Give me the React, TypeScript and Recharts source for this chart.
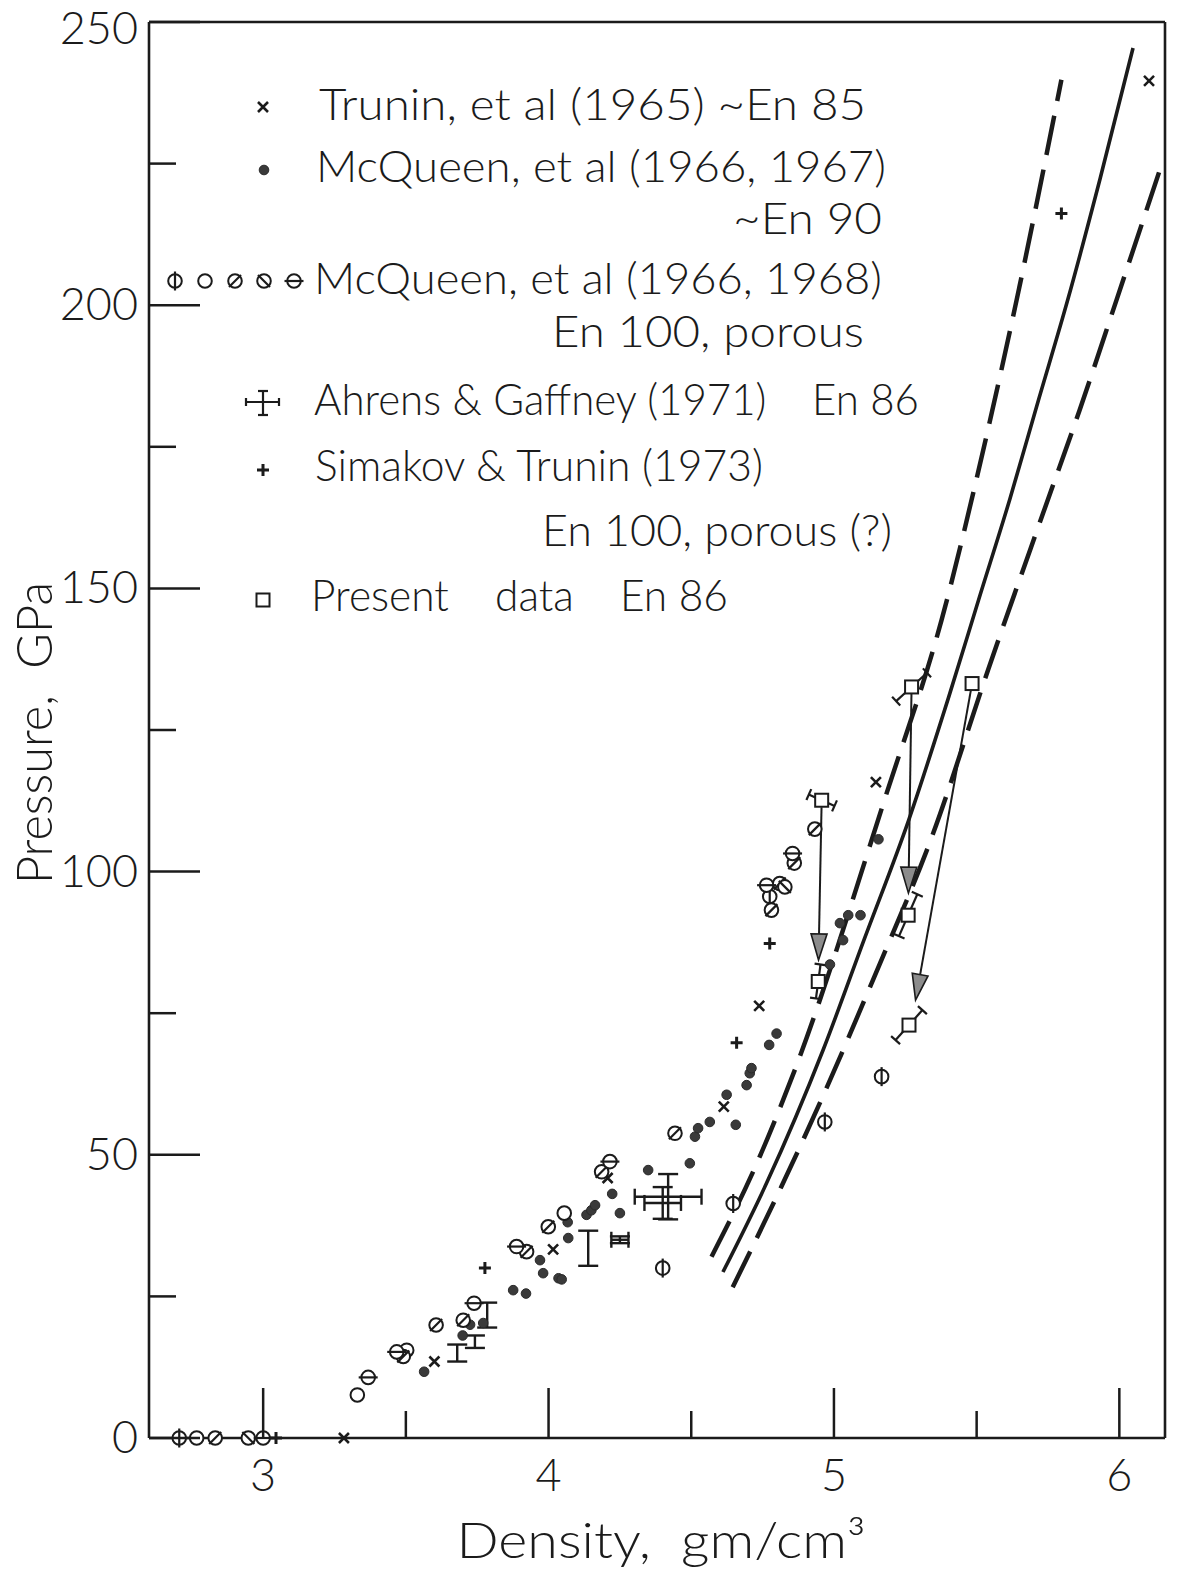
import React from 'react';
import { ComposedChart, XAxis, YAxis, Scatter, Line, ReferenceLine, ErrorBar, Legend } from 'recharts';

// ---------------- data ----------------
const xTicks = [3, 3.5, 4, 4.5, 5, 5.5, 6];
const yTicks = [0, 25, 50, 75, 100, 125, 150, 175, 200, 225, 250];

const truninName = 'Trunin, et al (1965) ~En 85';
const mcq67Name = 'McQueen, et al (1966, 1967)';
const mcq67Sub = '~En 90';
const mcq68Name = 'McQueen, et al (1966, 1968)';
const mcq68Sub = 'En 100, porous';
const ahrensName = 'Ahrens & Gaffney (1971)    En 86';
const simakovName = 'Simakov & Trunin (1973)';
const simakovSub = 'En 100, porous (?)';
const presentName = 'Present    data    En 86';

const trunin = [
  { x: 3.283, y: 0 }, { x: 3.6, y: 13.5 }, { x: 4.016, y: 33.3 }, { x: 4.207, y: 45.9 },
  { x: 4.614, y: 58.5 }, { x: 4.738, y: 76.3 }, { x: 5.147, y: 115.8 }, { x: 6.104, y: 239.6 },
];

const mcqueenDense = [
  { x: 3.564, y: 11.7 }, { x: 3.699, y: 18.1 }, { x: 3.725, y: 20.0 }, { x: 3.771, y: 20.3 },
  { x: 3.876, y: 26.1 }, { x: 3.921, y: 25.5 }, { x: 3.97, y: 31.4 }, { x: 3.981, y: 29.1 },
  { x: 4.035, y: 28.2 }, { x: 4.046, y: 28.0 }, { x: 4.069, y: 35.3 }, { x: 4.067, y: 38.1 },
  { x: 4.133, y: 39.4 }, { x: 4.15, y: 40.2 }, { x: 4.163, y: 41.1 }, { x: 4.223, y: 43.1 },
  { x: 4.25, y: 39.7 }, { x: 4.349, y: 47.3 }, { x: 4.495, y: 48.5 }, { x: 4.513, y: 53.2 },
  { x: 4.524, y: 54.7 }, { x: 4.565, y: 55.8 }, { x: 4.624, y: 60.6 }, { x: 4.656, y: 55.3 },
  { x: 4.694, y: 62.3 }, { x: 4.705, y: 64.4 }, { x: 4.711, y: 65.3 }, { x: 4.773, y: 69.4 },
  { x: 4.799, y: 71.4 }, { x: 4.986, y: 83.6 }, { x: 5.021, y: 90.9 }, { x: 5.032, y: 87.9 },
  { x: 5.05, y: 92.3 }, { x: 5.093, y: 92.3 }, { x: 5.156, y: 105.7 },
];

const porousPhi = [
  { x: 2.706, y: 0 }, { x: 4.4, y: 30.0 }, { x: 4.647, y: 41.4 }, { x: 4.968, y: 55.8 },
  { x: 5.167, y: 63.8 }, { x: 4.775, y: 95.6 },
];
const porousOpen = [
  { x: 2.767, y: 0 }, { x: 3.33, y: 7.6 }, { x: 3.503, y: 15.5 }, { x: 4.055, y: 39.7 },
];
const porousSlash = [
  { x: 2.832, y: 0 }, { x: 3.491, y: 14.4 }, { x: 3.606, y: 19.95 }, { x: 3.701, y: 20.8 },
  { x: 3.923, y: 32.9 }, { x: 3.999, y: 37.3 }, { x: 4.186, y: 47.0 }, { x: 4.443, y: 53.8 },
  { x: 4.861, y: 101.5 }, { x: 4.933, y: 107.5 }, { x: 4.81, y: 97.9 }, { x: 4.781, y: 93.2 },
];
const porousBackslash = [
  { x: 2.948, y: 0 }, { x: 4.828, y: 97.3 },
];
const porousTheta = [
  { x: 3.0, y: 0 }, { x: 3.368, y: 10.7 }, { x: 3.468, y: 15.2 }, { x: 3.739, y: 23.8 },
  { x: 3.888, y: 33.8 }, { x: 4.215, y: 48.8 }, { x: 4.855, y: 103.2 }, { x: 4.764, y: 97.6 },
];

const simakov = [
  { x: 3.045, y: 0 }, { x: 3.777, y: 30.0 }, { x: 4.659, y: 69.8 }, { x: 4.775, y: 87.3 },
  { x: 5.797, y: 216.2 },
];

const ahrens = [
  { x: 3.68, y: 15.0, xErr: 0, yErr: 1.5 },
  { x: 3.742, y: 17.0, xErr: 0, yErr: 1.1 },
  { x: 3.785, y: 21.7, xErr: 0, yErr: 2.2 },
  { x: 4.139, y: 33.5, xErr: 0, yErr: 3.1 },
  { x: 4.25, y: 35.0, xErr: 0.03, yErr: 0.6 },
  { x: 4.4, y: 41.5, xErr: 0.064, yErr: 2.8 },
  { x: 4.419, y: 42.6, xErr: 0.117, yErr: 4.0 },
];

const present = [
  { x: 4.957, y: 112.6 }, { x: 4.945, y: 80.6 },
  { x: 5.272, y: 132.6 }, { x: 5.26, y: 92.3 },
  { x: 5.484, y: 133.2 }, { x: 5.263, y: 72.9 },
];
// slanted uncertainty (half-vector) of present data points
const presentUncertainty = [
  { x: 4.957, y: 112.6, dx: 0.045, dy: -1.0 },
  { x: 4.945, y: 80.6, dx: 0.008, dy: 3.0 },
  { x: 5.272, y: 132.6, dx: 0.054, dy: 2.5 },
  { x: 5.26, y: 92.3, dx: 0.032, dy: 3.7 },
  { x: 5.263, y: 72.9, dx: 0.047, dy: 2.65 },
];
// release arrows from initial to final states
const presentArrows = [
  { x1: 4.957, y1: 112.6, x2: 4.946, y2: 84.4 },
  { x1: 5.272, y1: 132.6, x2: 5.261, y2: 96.2 },
  { x1: 5.484, y1: 133.2, x2: 5.286, y2: 77.3 },
];

const curveLeft = [
  { x: 4.571, y: 32.0 }, { x: 4.735, y: 49.1 }, { x: 4.863, y: 65.0 }, { x: 5.185, y: 113.9 },
  { x: 5.377, y: 144.4 }, { x: 5.523, y: 174.4 }, { x: 5.64, y: 200.9 }, { x: 5.797, y: 239.8 },
];
const curveMid = [
  { x: 4.611, y: 29.3 }, { x: 4.764, y: 45.0 }, { x: 4.962, y: 68.5 }, { x: 5.105, y: 87.9 },
  { x: 5.262, y: 109.1 }, { x: 5.402, y: 130.8 }, { x: 5.507, y: 148.0 }, { x: 5.616, y: 165.7 },
  { x: 5.717, y: 183.3 }, { x: 5.819, y: 200.9 }, { x: 5.933, y: 222.4 }, { x: 6.048, y: 245.4 },
];
const curveRight = [
  { x: 4.645, y: 26.6 }, { x: 4.816, y: 44.4 }, { x: 4.968, y: 61.1 }, { x: 5.137, y: 80.9 },
  { x: 5.348, y: 106.8 }, { x: 5.54, y: 135.6 }, { x: 5.733, y: 163.3 }, { x: 5.861, y: 181.5 },
  { x: 5.99, y: 200.9 }, { x: 6.142, y: 223.9 },
];

// ---------------- styling ----------------
const INK = '#1b1b1b';
const FONT = "Lato, 'Open Sans', 'DejaVu Sans', sans-serif";
const W = 1181;
const H = 1575;

const isMajorX = (v: number) => Math.abs(v - Math.round(v)) < 1e-6;
const isMajorY = (v: number) => Math.abs(v % 50) < 1e-6;

const txt = { fontFamily: FONT, fontWeight: 300, fill: INK } as const;

function BottomTick(p: any) {
  const { x, y, payload } = p;
  const major = isMajorX(payload.value);
  return (
    <g>
      <line x1={x} x2={x} y1={y} y2={y - (major ? 50 : 27)} stroke={INK} strokeWidth={2.5} />
      {major && (
        <text x={x} y={y + 53} textAnchor="middle" fontSize={45} {...txt}>{payload.value}</text>
      )}
    </g>
  );
}
function TopTick(p: any) {
  const { x, y, payload } = p;
  const major = isMajorX(payload.value);
  return <line x1={x} x2={x} y1={y} y2={y + (major ? 47 : 27)} stroke={INK} strokeWidth={2.5} />;
}
function LeftTick(p: any) {
  const { x, y, payload } = p;
  const major = isMajorY(payload.value);
  return (
    <g>
      <line x1={x} x2={x + (major ? 51 : 27)} y1={y} y2={y} stroke={INK} strokeWidth={2.5} />
      {major && (
        <text x={x - 11} y={Math.max(y + 15, 44)} textAnchor="end" fontSize={45} {...txt}>{payload.value}</text>
      )}
    </g>
  );
}
function RightTick(p: any) {
  const { x, y, payload } = p;
  const major = isMajorY(payload.value);
  return <line x1={x} x2={x - (major ? 48 : 27)} y1={y} y2={y} stroke={INK} strokeWidth={2.5} />;
}

function XTitle(p: any) {
  const vb = p.viewBox;
  return (
    <text x={vb.x + vb.width / 2 + 4} y={vb.y + 120} textAnchor="middle" fontSize={50}
      textLength={409} lengthAdjust="spacingAndGlyphs" style={{ whiteSpace: 'pre' }} {...txt}>
      {'Density,  gm/cm³'}
    </text>
  );
}
function YTitle(p: any) {
  const vb = p.viewBox;
  const cx = vb.x + 3;
  const cy = vb.y + vb.height / 2 + 3;
  return (
    <text x={cx} y={cy} transform={`rotate(-90 ${cx} ${cy})`} textAnchor="middle" fontSize={50}
      textLength={302} lengthAdjust="spacingAndGlyphs" style={{ whiteSpace: 'pre' }} {...txt}>
      {'Pressure,  GPa'}
    </text>
  );
}

// ---------------- marker shapes ----------------
const XMark = ({ cx, cy }: any) => (
  <path d={`M${cx - 5},${cy - 5}L${cx + 5},${cy + 5}M${cx - 5},${cy + 5}L${cx + 5},${cy - 5}`}
    stroke={INK} strokeWidth={2.6} />
);
const Dot = ({ cx, cy }: any) => <circle cx={cx} cy={cy} r={4.8} fill="#3a3a3a" stroke="#2a2a2a" strokeWidth={1} />;
const PlusMark = ({ cx, cy }: any) => (
  <path d={`M${cx - 6},${cy}L${cx + 6},${cy}M${cx},${cy - 6}L${cx},${cy + 6}`} stroke={INK} strokeWidth={3} />
);
const ring = (cx: number, cy: number) => (
  <circle cx={cx} cy={cy} r={6.8} fill="#fff" stroke={INK} strokeWidth={2} />
);
const PhiMark = ({ cx, cy }: any) => (
  <g>{ring(cx, cy)}<line x1={cx} x2={cx} y1={cy - 9.5} y2={cy + 9.5} stroke={INK} strokeWidth={2.2} /></g>
);
const OpenMark = ({ cx, cy }: any) => <g>{ring(cx, cy)}</g>;
const SlashMark = ({ cx, cy }: any) => (
  <g>{ring(cx, cy)}<line x1={cx - 6} y1={cy + 6} x2={cx + 6} y2={cy - 6} stroke={INK} strokeWidth={2.2} /></g>
);
const BackslashMark = ({ cx, cy }: any) => (
  <g>{ring(cx, cy)}<line x1={cx - 6} y1={cy - 6} x2={cx + 6} y2={cy + 6} stroke={INK} strokeWidth={2.2} /></g>
);
const ThetaMark = ({ cx, cy }: any) => (
  <g>{ring(cx, cy)}<line x1={cx - 9.5} x2={cx + 9.5} y1={cy} y2={cy} stroke={INK} strokeWidth={2.2} /></g>
);
const SquareMark = ({ cx, cy }: any) => (
  <rect x={cx - 6.5} y={cy - 6.5} width={13} height={13} fill="#fff" stroke={INK} strokeWidth={2} />
);
const NoMark = () => <g />;
const AhrensLegendMark = ({ cx, cy }: any) => (
  <g stroke={INK} strokeWidth={2.2}>
    <line x1={cx - 17} x2={cx + 16} y1={cy} y2={cy} />
    <line x1={cx - 17} x2={cx - 17} y1={cy - 4} y2={cy + 4} />
    <line x1={cx + 16} x2={cx + 16} y1={cy - 4} y2={cy + 4} />
    <line x1={cx} x2={cx} y1={cy - 11} y2={cy + 13} />
    <line x1={cx - 5} x2={cx + 5} y1={cy - 11} y2={cy - 11} />
    <line x1={cx - 5} x2={cx + 5} y1={cy + 13} y2={cy + 13} />
  </g>
);

function ArrowShape(p: any) {
  const { x1, y1, x2, y2 } = p;
  const dx = x2 - x1, dy = y2 - y1;
  const len = Math.hypot(dx, dy) || 1;
  const ux = dx / len, uy = dy / len;
  const hl = 26, hw = 8;
  const sx = x1 + ux * 7, sy = y1 + uy * 7;
  const bx = x2 - ux * hl, by = y2 - uy * hl;
  const px = -uy, py = ux;
  return (
    <g>
      <line x1={sx} y1={sy} x2={bx} y2={by} stroke={INK} strokeWidth={2} />
      <polygon points={`${x2},${y2} ${bx + px * hw},${by + py * hw} ${bx - px * hw},${by - py * hw}`}
        fill="#8c8c8c" stroke={INK} strokeWidth={1.6} />
    </g>
  );
}

function SlantErrorShape(p: any) {
  const { x1, y1, x2, y2 } = p;
  const mx = (x1 + x2) / 2, my = (y1 + y2) / 2;
  const dx = x2 - x1, dy = y2 - y1;
  const len = Math.hypot(dx, dy) || 1;
  const ux = dx / len, uy = dy / len;
  const px = -uy * 6, py = ux * 6;
  const gap = 7;
  return (
    <g stroke={INK} strokeWidth={2.2}>
      <line x1={mx + ux * gap} y1={my + uy * gap} x2={x2} y2={y2} />
      <line x1={mx - ux * gap} y1={my - uy * gap} x2={x1} y2={y1} />
      <line x1={x2 - px} y1={y2 - py} x2={x2 + px} y2={y2 + py} />
      <line x1={x1 - px} y1={y1 - py} x2={x1 + px} y2={y1 + py} />
    </g>
  );
}

// ---------------- legend ----------------
function LegendBox() {
  const row = (x: number, y: number, w: number, s: string) => (
    <text x={x} y={y} fontSize={44} textLength={w} lengthAdjust="spacingAndGlyphs"
      style={{ whiteSpace: 'pre' }} {...txt}>{s}</text>
  );
  return (
    <svg width={W} height={640} style={{ display: 'block', overflow: 'visible' }}>
      <XMark cx={263} cy={107} />
      {row(319, 120, 547, truninName)}
      <Dot cx={264} cy={170} />
      {row(316, 182, 570, mcq67Name)}
      {row(733, 234, 149, mcq67Sub)}
      <PhiMark cx={175} cy={281} />
      <OpenMark cx={205} cy={281} />
      <SlashMark cx={235} cy={281} />
      <BackslashMark cx={264} cy={281} />
      <ThetaMark cx={294} cy={281} />
      {row(314, 294, 568, mcq68Name)}
      {row(552, 347, 312, mcq68Sub)}
      <AhrensLegendMark cx={263} cy={402} />
      {row(314, 415, 605, ahrensName)}
      <PlusMark cx={263} cy={470} />
      {row(315, 481, 448, simakovName)}
      {row(542, 546, 350, simakovSub)}
      <SquareMark cx={263} cy={600} />
      {row(311, 611, 417, presentName)}
    </svg>
  );
}

export default function App() {
  const axisLine = { stroke: INK, strokeWidth: 2.6 };
  return (
    <div style={{ width: W, height: H, background: '#fff' }}>
      <style>{'body{margin:0;background:#fff}'}</style>
      <ComposedChart width={W} height={H} margin={{ top: 21, right: 15, bottom: 17, left: 49 }}>
        <XAxis xAxisId={0} dataKey="x" type="number" domain={[2.6, 6.16]} ticks={xTicks} interval={0}
          tick={BottomTick} tickLine={false} tickSize={0} tickMargin={0} height={120}
          axisLine={axisLine} label={XTitle} />
        <XAxis xAxisId="top" orientation="top" dataKey="x" type="number" domain={[2.6, 6.16]}
          ticks={xTicks} interval={0} tick={TopTick} tickLine={false} tickSize={0} tickMargin={0}
          height={1} axisLine={axisLine} />
        <YAxis yAxisId={0} dataKey="y" type="number" domain={[0, 250]} ticks={yTicks} interval={0}
          tick={LeftTick} tickLine={false} tickSize={0} tickMargin={0} width={100}
          axisLine={axisLine} label={YTitle} />
        <YAxis yAxisId="right" orientation="right" dataKey="y" type="number" domain={[0, 250]}
          ticks={yTicks} interval={0} tick={RightTick} tickLine={false} tickSize={0} tickMargin={0}
          width={1} axisLine={axisLine} />

        <Line data={curveLeft} dataKey="y" type="monotone" dot={false} stroke={INK} strokeWidth={4.5}
          strokeDasharray="40 15" isAnimationActive={false} legendType="none" />
        <Line data={curveMid} dataKey="y" type="monotone" dot={false} stroke={INK} strokeWidth={3.6}
          isAnimationActive={false} legendType="none" />
        <Line data={curveRight} dataKey="y" type="monotone" dot={false} stroke={INK} strokeWidth={4.5}
          strokeDasharray="40 15" isAnimationActive={false} legendType="none" />

        {presentArrows.map((a, i) => (
          <ReferenceLine key={`arr${i}`} segment={[{ x: a.x1, y: a.y1 }, { x: a.x2, y: a.y2 }]}
            shape={ArrowShape} ifOverflow="visible" />
        ))}
        {presentUncertainty.map((u, i) => (
          <ReferenceLine key={`unc${i}`}
            segment={[{ x: u.x - u.dx, y: u.y - u.dy }, { x: u.x + u.dx, y: u.y + u.dy }]}
            shape={SlantErrorShape} ifOverflow="visible" />
        ))}

        <Scatter name={mcq67Name} data={mcqueenDense} shape={Dot} isAnimationActive={false} />
        <Scatter name={truninName} data={trunin} shape={XMark} isAnimationActive={false} />
        <Scatter name={mcq68Name} data={porousPhi} shape={PhiMark} isAnimationActive={false} />
        <Scatter name={mcq68Name} data={porousOpen} shape={OpenMark} isAnimationActive={false} legendType="none" />
        <Scatter name={mcq68Name} data={porousSlash} shape={SlashMark} isAnimationActive={false} legendType="none" />
        <Scatter name={mcq68Name} data={porousBackslash} shape={BackslashMark} isAnimationActive={false} legendType="none" />
        <Scatter name={mcq68Name} data={porousTheta} shape={ThetaMark} isAnimationActive={false} legendType="none" />
        <Scatter name={ahrensName} data={ahrens} shape={NoMark} isAnimationActive={false}>
          <ErrorBar dataKey="yErr" direction="y" width={10} stroke={INK} strokeWidth={2.4} />
          <ErrorBar dataKey="xErr" direction="x" width={8} stroke={INK} strokeWidth={2.4} />
        </Scatter>
        <Scatter name={simakovName} data={simakov} shape={PlusMark} isAnimationActive={false} />
        <Scatter name={presentName} data={present} shape={SquareMark} isAnimationActive={false} />

        <Legend layout="horizontal" align="center" verticalAlign="middle" content={LegendBox}
          wrapperStyle={{ position: 'absolute', left: 0, top: 0, width: W, height: 640, pointerEvents: 'none' }} />
      </ComposedChart>
    </div>
  );
}
